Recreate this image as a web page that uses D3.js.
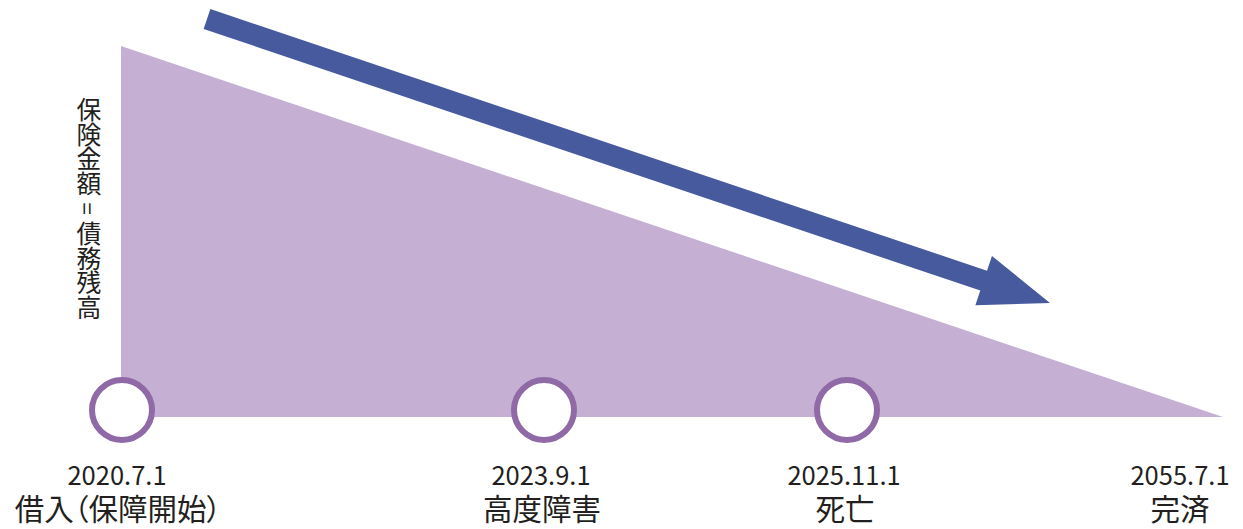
<!DOCTYPE html>
<html><head><meta charset="utf-8">
<script src="https://cdn.jsdelivr.net/npm/d3@7"></script>
<style>
html,body{margin:0;padding:0;background:#fff;}
svg{display:block;}
text{font-family:"Noto Sans CJK JP","Noto Sans",sans-serif;fill:#231f20;}
</style></head><body>
<svg id="c" width="1243" height="529"></svg>
<script>
// ---- data ----
const dates = ["2020.7.1", "2023.9.1", "2025.11.1", "2055.7.1"];
const events = ["借入（保障開始）", "高度障害", "死亡", "完済"];
const balance = [100, 0];          // 保険金額 = 債務残高 at start / end (percent)
const markedEvents = [0, 1, 2];    // events shown with a circle on the timeline
const yTitleParts = ["保険金額", "=", "債務残高"];

// ---- layout ----
const svg = d3.select("#c");
const x = d3.scaleLinear().domain([0, 1, 2, 3]).range([121, 543, 846, 1223]);
const y = d3.scaleLinear().domain([0, 100]).range([417, 46]);
const last = dates.length - 1;

// triangle area (remaining balance)
const area = d3.area().x(d => x(d.i)).y0(y(0)).y1(d => y(d.v));
svg.append("path")
  .datum(balance.map((v, k) => ({ i: k === 0 ? 0 : last, v })))
  .attr("d", area)
  .attr("fill", "#c5b0d4");

// arrow
const ax0 = 207, ay0 = 19, ax1 = 1050, ay1 = 303;
const ang = Math.atan2(ay1 - ay0, ax1 - ax0);
const len = Math.hypot(ax1 - ax0, ay1 - ay0);
const sw = 10.5, hw = 26, hl = 70;
const g = svg.append("g").attr("transform", `translate(${ax0},${ay0}) rotate(${ang * 180 / Math.PI})`);
g.append("path")
  .attr("d", `M0,${-sw} L${len - hl},${-sw} L${len - hl},${-hw} L${len},0 L${len - hl},${hw} L${len - hl},${sw} L0,${sw} Z`)
  .attr("fill", "#465a9d");

// circles
svg.selectAll("circle.ev").data(markedEvents).join("circle")
  .attr("class", "ev")
  .attr("cx", d => x(d) + 1)
  .attr("cy", 410)
  .attr("r", 30)
  .attr("fill", "#fff")
  .attr("stroke", "#8f6aa6")
  .attr("stroke-width", 6);

// labels: one text per event, date line + event line
const labels = svg.selectAll("text.lbl").data(dates.map((d, i) => ({ d, e: events[i], i }))).join("text")
  .attr("class", "lbl")
  .attr("text-anchor", "middle");
labels.append("tspan")
  .attr("x", o => o.i === 0 ? x(o.i) - 4 : o.i === last ? x(o.i) - 43 : x(o.i) - 2)
  .attr("y", 485)
  .attr("font-size", 25.5)
  .text(o => o.d);
labels.append("tspan")
  .attr("x", o => o.i === 0 ? x(o.i) - 3 : o.i === last ? x(o.i) - 43 : x(o.i) - 1)
  .attr("y", 520)
  .attr("font-size", 29.5)
  .style("font-feature-settings", "'palt'")
  .text(o => o.e);

// vertical y title
const fs = 24.8, ty0 = 97, tx = 89;
let pos = ty0;
yTitleParts.forEach((p, i) => {
  if (p === "=") {
    const cy = pos + fs / 2;
    svg.append("text")
      .attr("x", tx).attr("y", cy)
      .attr("text-anchor", "middle").attr("dominant-baseline", "central")
      .attr("font-size", 22)
      .attr("transform", `rotate(90,${tx},${cy})`)
      .text(p);
    pos += fs;
  } else {
    svg.append("text")
      .attr("x", tx).attr("y", pos)
      .attr("font-size", fs)
      .style("writing-mode", "vertical-rl")
      .style("text-orientation", "upright")
      .text(p);
    pos += fs * Array.from(p).length;
  }
});
</script>
</body></html>
